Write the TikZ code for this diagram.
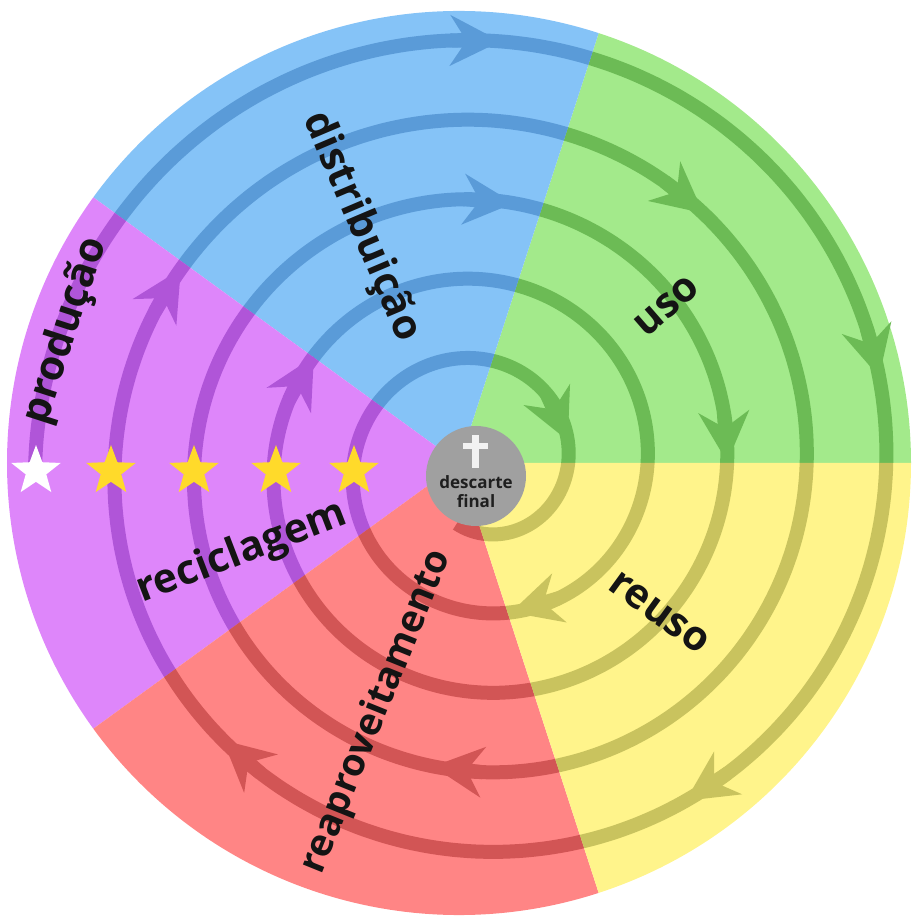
\documentclass[tikz,border=0pt]{standalone}
\usepackage{fontspec}
\setmainfont{Open Sans}
\usetikzlibrary{arrows.meta, shapes.geometric}
\definecolor{SkyFill}{HTML}{85C3F7}
\definecolor{SkyLine}{HTML}{5A9BD8}
\definecolor{LeafFill}{HTML}{A3EA8B}
\definecolor{LeafLine}{HTML}{6CBB55}
\definecolor{SunFill}{HTML}{FFF48B}
\definecolor{SunLine}{HTML}{C9C35E}
\definecolor{RoseFill}{HTML}{FF8585}
\definecolor{RoseLine}{HTML}{D25555}
\definecolor{VioletFill}{HTML}{DE86FA}
\definecolor{VioletLine}{HTML}{B055D8}
\definecolor{EndGray}{HTML}{A0A0A0}
\definecolor{CrossWhite}{HTML}{F2F2F2}
\definecolor{StarGold}{HTML}{FFDA2A}
\tikzset{
  track/.style={line width=14pt},
  flowhead/.style={line width=14pt, -{Stealth[length=50pt, width=50pt, inset=16pt]}},
  stage/.style={font=\fontsize{41}{44}\selectfont\bfseries, inner sep=0pt, text=black!92},
  rating/.style={star, star points=5, star point ratio=2.4, minimum size=52pt, inner sep=0pt, fill=StarGold}
}
% spiral: quarter turn k, clockwise from the left
\newcommand{\spx}[1]{21.5+(445.5-19.9*(#1))*cos(180-90*(#1))}
\newcommand{\spy}[1]{-2.9+(445.5-19.9*(#1))*sin(180-90*(#1))}
\newcommand{\flowtip}[2]{%
  \pgfmathsetmacro{\kback}{#1-50/((445.5-19.9*(#1))*1.5708)}%
  \draw[flowhead, #2] ({\spx{\kback}},{\spy{\kback}}) -- ({\spx{#1}},{\spy{#1}});}

\begin{document}
\begin{tikzpicture}[x=1pt, y=1pt]
\useasboundingbox (-459,-457) rectangle (452,463);

\foreach \a/\c in {0/LeafFill, 72/SkyFill, 144/VioletFill, 216/RoseFill, 288/SunFill}
  \fill[\c] (0,0) -- (\a:452) arc[start angle=\a, end angle=\a+72, radius=452] -- cycle;

\foreach \a/\c in {0/LeafLine, 72/SkyLine, 144/VioletLine, 216/RoseLine, 288/SunLine} {
  \begin{scope}
    \clip (0,0) -- (\a:480) arc[start angle=\a, end angle=\a+72, radius=480] -- cycle;
    \draw[track, \c] plot[variable=\t, domain=0:19.25, samples=500, smooth] ({\spx{\t}},{\spy{\t}});
  \end{scope}
}

\foreach \k/\c in {1.03/SkyLine, 9.08/SkyLine, 1.86/LeafLine, 5.46/LeafLine, 9.99/LeafLine,
                   17.82/LeafLine, 2.65/SunLine, 14.87/SunLine, 3.48/RoseLine, 7.1/RoseLine,
                   4.37/VioletLine, 12.37/VioletLine}
  \flowtip{\k}{\c};

\node[stage, rotate=72] (prod) at (-393,132) {produção};
\node[stage, rotate=-67] (dist) at (-98,236) {distribuição};
\node[stage, rotate=41] (use) at (208,157) {uso};
\node[stage, rotate=-36] (reuse) at (200,-150) {reuso};
\node[stage, rotate=68, font=\fontsize{38}{40}\selectfont\bfseries] (reap) at (-82,-249) {reaproveitamento};
\node[stage, rotate=21] (recy) at (-217,-90) {reciclagem};

\node[rating, fill=white] (star0) at (-423,-8) {};
\foreach \x [count=\i] in {-348,-265,-183,-105}
  \node[rating] (star\i) at (\x,-8) {};

\node[circle, fill=EndGray, minimum size=100pt, inner sep=0pt] (end) at (17,-13) {};
\fill[CrossWhite] (12.5,-5) rectangle (19.5,28);
\fill[CrossWhite] (3.5,14) rectangle (28.5,19.5);
\node[font=\fontsize{17}{19}\selectfont\bfseries, align=center, text=black!88, inner sep=0pt] (endtext) at (17,-29) {descarte\\final};
\end{tikzpicture}
\end{document}
